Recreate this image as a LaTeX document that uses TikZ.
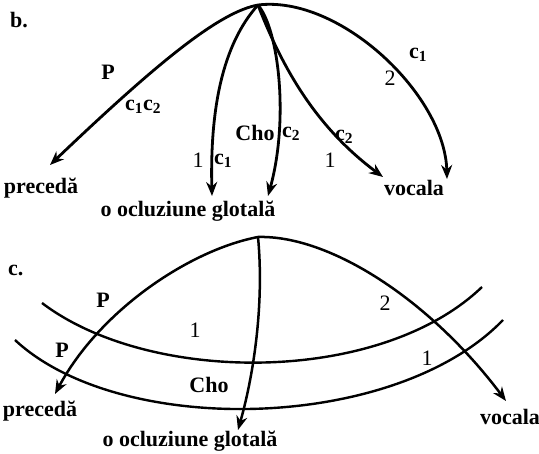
\documentclass[tikz,border=0pt]{standalone}
\usepackage{fontspec}
\setmainfont{Liberation Serif}
\usetikzlibrary{arrows.meta}
\tikzset{
  lbl/.style={font=\fontsize{22}{24}\selectfont\bfseries, inner sep=0pt},
  num/.style={font=\fontsize{22}{24}\selectfont, inner sep=0pt},
  word/.style={font=\fontsize{22}{24}\selectfont\bfseries, inner sep=0pt},
  arr/.style={line width=2.8pt, -{Stealth[length=14pt,width=11pt]}},
  arrc/.style={line width=2.5pt, -{Stealth[length=14pt,width=11pt]}},
  band/.style={line width=2.4pt}
}
\begin{document}
\begin{tikzpicture}[x=1pt,y=-1pt]
\useasboundingbox (0,0) rectangle (539,454);
% ---------- panel b ----------
\node[lbl, anchor=west] (bl) at (10,20) {b.};
\coordinate (A) at (258,5);
\coordinate (bP) at (50,165);
\coordinate (bG1) at (212,196);
\coordinate (bG2) at (268,196);
\coordinate (bV1) at (383,177);
\coordinate (bV2) at (447,179);
\draw[arr] (A) .. controls (220,12) and (160,60) .. (bP);
\draw[arr] (A) .. controls (222,45) and (210,110) .. (bG1);
\draw[arr] (A) .. controls (279,30) and (289,120) .. (bG2);
\draw[arr] (A) .. controls (285,75) and (320,130) .. (bV1);
\draw[arr] (A) .. controls (340,-5) and (445,95) .. (bV2);
\node[lbl] (bp1) at (108,72) {P};
\node[lbl] (bc12) at (143,107) {c\textsubscript{1}c\textsubscript{2}};
\node[num] (bn1) at (198,160) {1};
\node[lbl] (bc1) at (223,161) {c\textsubscript{1}};
\node[lbl] (bcho) at (255,133) {Cho};
\node[lbl] (bc2a) at (291,134) {c\textsubscript{2}};
\node[lbl] (bc2b) at (344,137) {c\textsubscript{2}};
\node[num] (bn1b) at (330,160) {1};
\node[lbl] (bc1b) at (418,55) {c\textsubscript{1}};
\node[num] (bn2) at (390,78) {2};
\node[word] (bprec) at (41,188) {precedă};
\node[word] (bocl) at (188,211) {o ocluziune glotală};
\node[word] (bvoc) at (414,188) {vocala};
% ---------- panel c ----------
\node[lbl, anchor=west] (cl) at (8,270) {c.};
\coordinate (C) at (258,237);
\coordinate (cP) at (55,394);
\coordinate (cG) at (238,430);
\coordinate (cV) at (506,401);
\coordinate (u1) at (42,303);
\coordinate (u2) at (482,287);
\coordinate (l1) at (15,340);
\coordinate (l2) at (503,320);
\draw[band] (u1) .. controls (150,385) and (380,385) .. (u2);
\draw[band] (l1) .. controls (120,438) and (395,432) .. (l2);
\draw[arrc] (C) .. controls (190,250) and (100,310) .. (cP);
\draw[arrc] (C) .. controls (264,300) and (255,370) .. (cG);
\draw[arrc] (C) .. controls (330,235) and (430,300) .. (cV);
\node[lbl] (cp1) at (103,300) {P};
\node[lbl] (cp2) at (62,350) {P};
\node[num] (cn1) at (195,330) {1};
\node[lbl] (ccho) at (209,385) {Cho};
\node[num] (cn2) at (385,303) {2};
\node[num] (cn1b) at (427,358) {1};
\node[word] (cprec) at (40,411) {precedă};
\node[word] (cocl) at (190,441) {o ocluziune glotală};
\node[word] (cvoc) at (510,417) {vocala};
\end{tikzpicture}
\end{document}
